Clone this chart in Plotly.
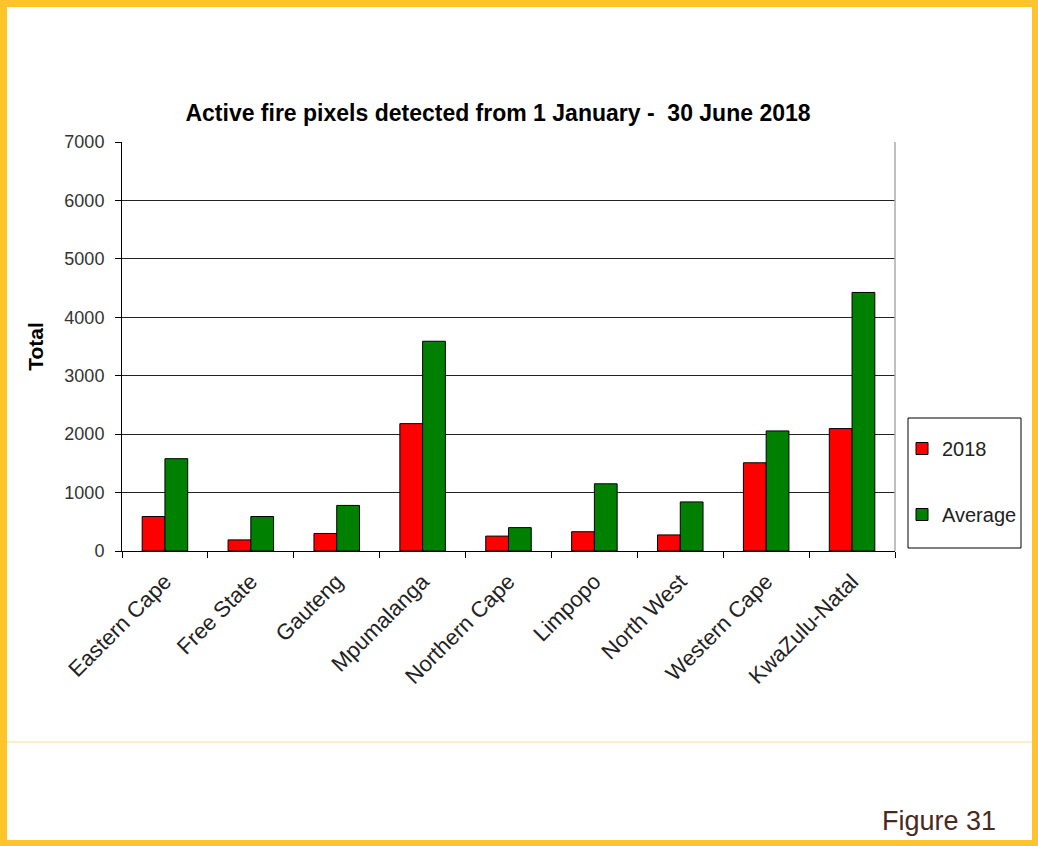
import plotly.graph_objects as go

categories = ["Eastern Cape", "Free State", "Gauteng", "Mpumalanga", "Northern Cape",
              "Limpopo", "North West", "Western Cape", "KwaZulu-Natal"]
values_2018 = [590, 190, 300, 2180, 255, 330, 275, 1510, 2095]
values_avg = [1580, 590, 780, 3590, 400, 1150, 840, 2055, 4425]
y_ticks = [0, 1000, 2000, 3000, 4000, 5000, 6000, 7000]

W, H = 1038, 846
L, R, T, B = 122, 895, 142, 551


def px(x):
    return (x - L) / (R - L)


def py(y):
    return (B - y) / (B - T)


fig = go.Figure()
fig.add_trace(go.Bar(x=categories, y=values_2018, name="2018", legendgroup="a",
                     marker=dict(color="#FF0000", line=dict(color="#000000", width=1))))
fig.add_trace(go.Bar(x=categories, y=values_avg, name="Average", legendgroup="b",
                     marker=dict(color="#008000", line=dict(color="#000000", width=1))))

shapes = [
    dict(type="rect", xref="paper", yref="paper", x0=px(7), x1=px(1032), y0=py(7), y1=py(840),
         fillcolor="white", line=dict(width=0), layer="below"),
    dict(type="line", xref="paper", yref="paper", x0=px(7), x1=px(1032), y0=py(742), y1=py(742),
         line=dict(color="#FBE9B8", width=1.5), layer="below"),
    dict(type="line", xref="paper", yref="paper", x0=1, x1=1, y0=0, y1=1,
         line=dict(color="#AAAAAA", width=1.5)),
    dict(type="rect", xref="paper", yref="paper", x0=px(908), x1=px(1021), y0=py(418), y1=py(548),
         line=dict(color="#000000", width=1), fillcolor="rgba(0,0,0,0)"),
]

fig.update_layout(
    width=W, height=H,
    margin=dict(l=L, r=W - R, t=T, b=H - B, pad=0),
    paper_bgcolor="#FFC42A",
    plot_bgcolor="white",
    barmode="group",
    bargap=0.47,
    bargroupgap=0,
    font=dict(family="Liberation Sans, Arial, sans-serif", color="#222222"),
    title=dict(text="<b>Active fire pixels detected from 1 January -  30 June 2018</b>",
               x=px(498), xref="paper", xanchor="center",
               y=1 - 113 / H, yref="container", yanchor="middle",
               font=dict(size=23, color="#000000")),
    xaxis=dict(type="category", tickson="boundaries", ticks="outside", ticklen=6,
               tickcolor="#000000", showline=True, linecolor="#000000", linewidth=1,
               tickangle=-45, tickfont=dict(size=22, color="#222222"), showgrid=False,
               ticklabelstandoff=8),
    yaxis=dict(range=[0, 7000], tickvals=y_ticks, ticks="outside", ticklen=6,
               tickcolor="#000000", showline=True, linecolor="#000000", linewidth=1,
               showgrid=True, gridcolor="#222222", gridwidth=1, zeroline=False,
               tickfont=dict(size=18, color="#333333"), ticklabelstandoff=7,
               title=dict(text="<b>Total</b>", font=dict(size=21, color="#000000"), standoff=15)),
    legend=dict(x=px(902), y=py(429), xanchor="left", yanchor="top",
                bgcolor="rgba(0,0,0,0)", borderwidth=0,
                font=dict(size=20, color="#222222"),
                traceorder="grouped", tracegroupgap=37, itemwidth=30),
    shapes=shapes,
    annotations=[
        dict(text="Figure 31", xref="paper", yref="paper", x=px(998), y=py(821),
             xanchor="right", yanchor="middle", showarrow=False,
             font=dict(size=27, color="#4A2A1E"))
    ],
)

fig.write_html("out.html", config={"displayModeBar": False},
               post_script="document.body.style.margin='0';document.body.style.overflow='hidden';")
